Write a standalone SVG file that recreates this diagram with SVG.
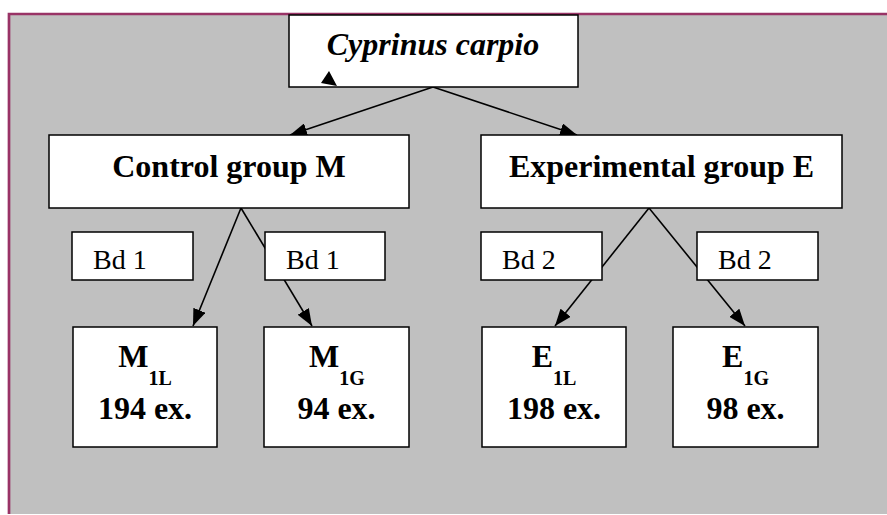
<svg xmlns="http://www.w3.org/2000/svg" width="887" height="515" viewBox="0 0 887 515">
<style>
.box{fill:#fff;stroke:#000;stroke-width:1.5}
text{font-family:'Liberation Serif',Tinos,'Times New Roman',Times,'DejaVu Serif',serif;fill:#000}
.b{font-weight:bold;font-size:32px}
.bi{font-weight:bold;font-style:italic;font-size:32px}
.r{font-size:28px}
.sub{font-weight:bold;font-size:20px}
.c{stroke:#000;stroke-width:1.6;fill:none}
</style>
<defs>
<marker id="ah" markerUnits="userSpaceOnUse" markerWidth="17" markerHeight="13" viewBox="0 0 17 13" refX="17" refY="6.5" orient="auto">
<path d="M0,0 L17,6.5 L0,13 Z" fill="#000"/>
</marker>
</defs>
<rect x="9" y="14" width="890" height="500" fill="#C0C0C0"/>
<path d="M9,514 V14 H887" fill="none" stroke="#993366" stroke-width="2.7"/>
<g id="connectors">
<line class="c" x1="433" y1="87" x2="290" y2="135" marker-end="url(#ah)"/>
<line class="c" x1="433" y1="87" x2="577" y2="135" marker-end="url(#ah)"/>
<line class="c" x1="241" y1="208" x2="193" y2="326" marker-end="url(#ah)"/>
<line class="c" x1="241" y1="208" x2="312" y2="326" marker-end="url(#ah)"/>
<line class="c" x1="649" y1="208" x2="555" y2="326" marker-end="url(#ah)"/>
<line class="c" x1="649" y1="208" x2="745" y2="326" marker-end="url(#ah)"/>
</g>
<g id="cyprinus">
<rect class="box" x="289" y="15" width="289" height="72"/>
<text class="bi" x="433" y="55" text-anchor="middle">Cyprinus carpio</text>
<polygon points="329,71 321,83 337,86" fill="#000"/>
</g>
<g id="control">
<rect class="box" x="49" y="135" width="360" height="73"/>
<text class="b" x="229" y="177" text-anchor="middle">Control group M</text>
</g>
<g id="experimental">
<rect class="box" x="481" y="135" width="361" height="73"/>
<text class="b" x="661.5" y="177" text-anchor="middle">Experimental group E</text>
</g>
<g id="bd1a">
<rect class="box" x="72" y="232" width="121" height="48"/>
<text class="r" x="93" y="269">Bd 1</text>
</g>
<g id="bd1b">
<rect class="box" x="265" y="232" width="120" height="48"/>
<text class="r" x="286" y="269">Bd 1</text>
</g>
<g id="bd2a">
<rect class="box" x="481" y="232" width="121" height="48"/>
<text class="r" x="502" y="269">Bd 2</text>
</g>
<g id="bd2b">
<rect class="box" x="697" y="232" width="121" height="48"/>
<text class="r" x="718" y="269">Bd 2</text>
</g>
<g id="m1l">
<rect class="box" x="73" y="327" width="144" height="120"/>
<text class="b" x="145" y="367" text-anchor="middle">M<tspan class="sub" dy="18">1L</tspan></text>
<text class="b" x="145" y="419" text-anchor="middle">194 ex.</text>
</g>
<g id="m1g">
<rect class="box" x="264" y="327" width="145" height="120"/>
<text class="b" x="337" y="367" text-anchor="middle">M<tspan class="sub" dy="18">1G</tspan></text>
<text class="b" x="336.5" y="419" text-anchor="middle">94 ex.</text>
</g>
<g id="e1l">
<rect class="box" x="482" y="327" width="144" height="120"/>
<text class="b" x="554" y="367" text-anchor="middle">E<tspan class="sub" dy="18">1L</tspan></text>
<text class="b" x="554" y="419" text-anchor="middle">198 ex.</text>
</g>
<g id="e1g">
<rect class="box" x="673" y="327" width="145" height="120"/>
<text class="b" x="745.5" y="367" text-anchor="middle">E<tspan class="sub" dy="18">1G</tspan></text>
<text class="b" x="745.5" y="419" text-anchor="middle">98 ex.</text>
</g>
</svg>
